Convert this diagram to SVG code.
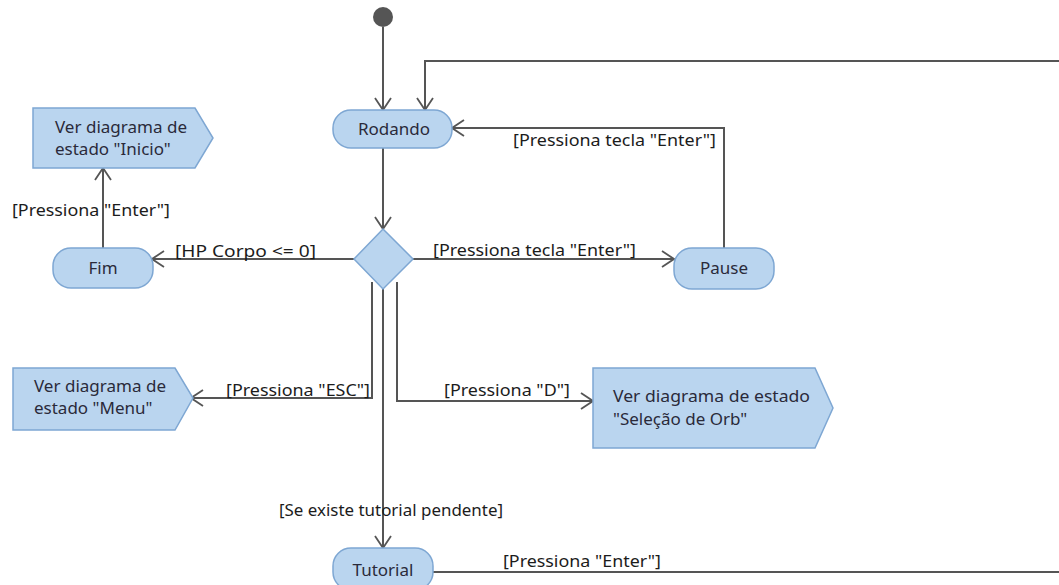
<svg xmlns="http://www.w3.org/2000/svg" width="1059" height="585" viewBox="0 0 1059 585">
  <style>
    .node { fill: #bad5ef; stroke: #7ea7d3; stroke-width: 1.5; }
    .ntext { font-family: "Noto Sans", "DejaVu Sans", sans-serif; font-size: 17px; fill: #2a2a3a; }
    .edge { fill: none; stroke: #555555; stroke-width: 2; }
    .label { font-family: "Noto Sans", "DejaVu Sans", sans-serif; font-size: 16px; fill: #1c1c1c; }
  </style>
  <defs>
    <marker id="arrow" markerWidth="14" markerHeight="18" refX="13" refY="9" orient="auto" markerUnits="userSpaceOnUse">
      <path d="M1,1 L13,9 L1,17" fill="none" stroke="#555555" stroke-width="1.8"/>
    </marker>
  </defs>

  <rect width="1059" height="585" fill="#ffffff"/>

  <!-- connectors -->
  <g id="connectors">
    <line class="edge" x1="383" y1="27" x2="383" y2="110" marker-end="url(#arrow)"/>
    <polyline class="edge" points="1059,61 425,61 425,110" marker-end="url(#arrow)"/>
    <line class="edge" x1="383" y1="148" x2="383" y2="229" marker-end="url(#arrow)"/>
    <line class="edge" x1="354" y1="259" x2="152" y2="259" marker-end="url(#arrow)"/>
    <line class="edge" x1="413" y1="259" x2="674" y2="259" marker-end="url(#arrow)"/>
    <polyline class="edge" points="724,248 724,128 452,128" marker-end="url(#arrow)"/>
    <line class="edge" x1="103" y1="248" x2="103" y2="168" marker-end="url(#arrow)"/>
    <polyline class="edge" points="372,282 372,398 191,398" marker-end="url(#arrow)"/>
    <polyline class="edge" points="397,282 397,401 593,401" marker-end="url(#arrow)"/>
    <line class="edge" x1="383" y1="288" x2="383" y2="548" marker-end="url(#arrow)"/>
    <line class="edge" x1="433" y1="572" x2="1059" y2="572"/>

    <text class="label" x="175" y="257" textLength="141" lengthAdjust="spacingAndGlyphs">[HP Corpo &lt;= 0]</text>
    <text class="label" x="433" y="256" textLength="203" lengthAdjust="spacingAndGlyphs">[Pressiona tecla "Enter"]</text>
    <text class="label" x="513" y="146" textLength="203" lengthAdjust="spacingAndGlyphs">[Pressiona tecla "Enter"]</text>
    <text class="label" x="12" y="216" textLength="158" lengthAdjust="spacingAndGlyphs">[Pressiona "Enter"]</text>
    <text class="label" x="226" y="396" textLength="144" lengthAdjust="spacingAndGlyphs">[Pressiona "ESC"]</text>
    <text class="label" x="444" y="396" textLength="126" lengthAdjust="spacingAndGlyphs">[Pressiona "D"]</text>
    <text class="label" x="279" y="516" textLength="224" lengthAdjust="spacingAndGlyphs">[Se existe tutorial pendente]</text>
    <text class="label" x="503" y="567" textLength="158" lengthAdjust="spacingAndGlyphs">[Pressiona "Enter"]</text>
  </g>

  <!-- initial node -->
  <g id="start">
    <circle cx="383" cy="17" r="10" fill="#555555"/>
  </g>

  <g id="rodando">
    <rect class="node" x="333" y="110" width="119" height="38" rx="18"/>
    <text class="ntext" x="394" y="135" text-anchor="middle">Rodando</text>
  </g>

  <g id="decisao">
    <polygon class="node" points="383,229 413,259 383,289 354,259"/>
  </g>

  <g id="fim">
    <rect class="node" x="53" y="248" width="100" height="40" rx="18"/>
    <text class="ntext" x="103" y="274" text-anchor="middle">Fim</text>
  </g>

  <g id="pause">
    <rect class="node" x="674" y="248" width="100" height="41" rx="18"/>
    <text class="ntext" x="724" y="274" text-anchor="middle">Pause</text>
  </g>

  <g id="inicio">
    <polygon class="node" points="33,108 195,108 213,138 195,168 33,168"/>
    <text class="ntext" x="55" y="133" textLength="132" lengthAdjust="spacingAndGlyphs">Ver diagrama de</text>
    <text class="ntext" x="55" y="155">estado "Inicio"</text>
  </g>

  <g id="menu">
    <polygon class="node" points="13,368 175,368 193,398 175,430 13,430"/>
    <text class="ntext" x="34" y="392" textLength="132" lengthAdjust="spacingAndGlyphs">Ver diagrama de</text>
    <text class="ntext" x="34" y="414">estado "Menu"</text>
  </g>

  <g id="orb">
    <polygon class="node" points="593,368 815,368 833,408 815,448 593,448"/>
    <text class="ntext" x="613" y="402" textLength="197" lengthAdjust="spacingAndGlyphs">Ver diagrama de estado</text>
    <text class="ntext" x="613" y="425">"Seleção de Orb"</text>
  </g>

  <g id="tutorial">
    <rect class="node" x="333" y="548" width="100" height="42" rx="18"/>
    <text class="ntext" x="383" y="576" text-anchor="middle">Tutorial</text>
  </g>
</svg>
